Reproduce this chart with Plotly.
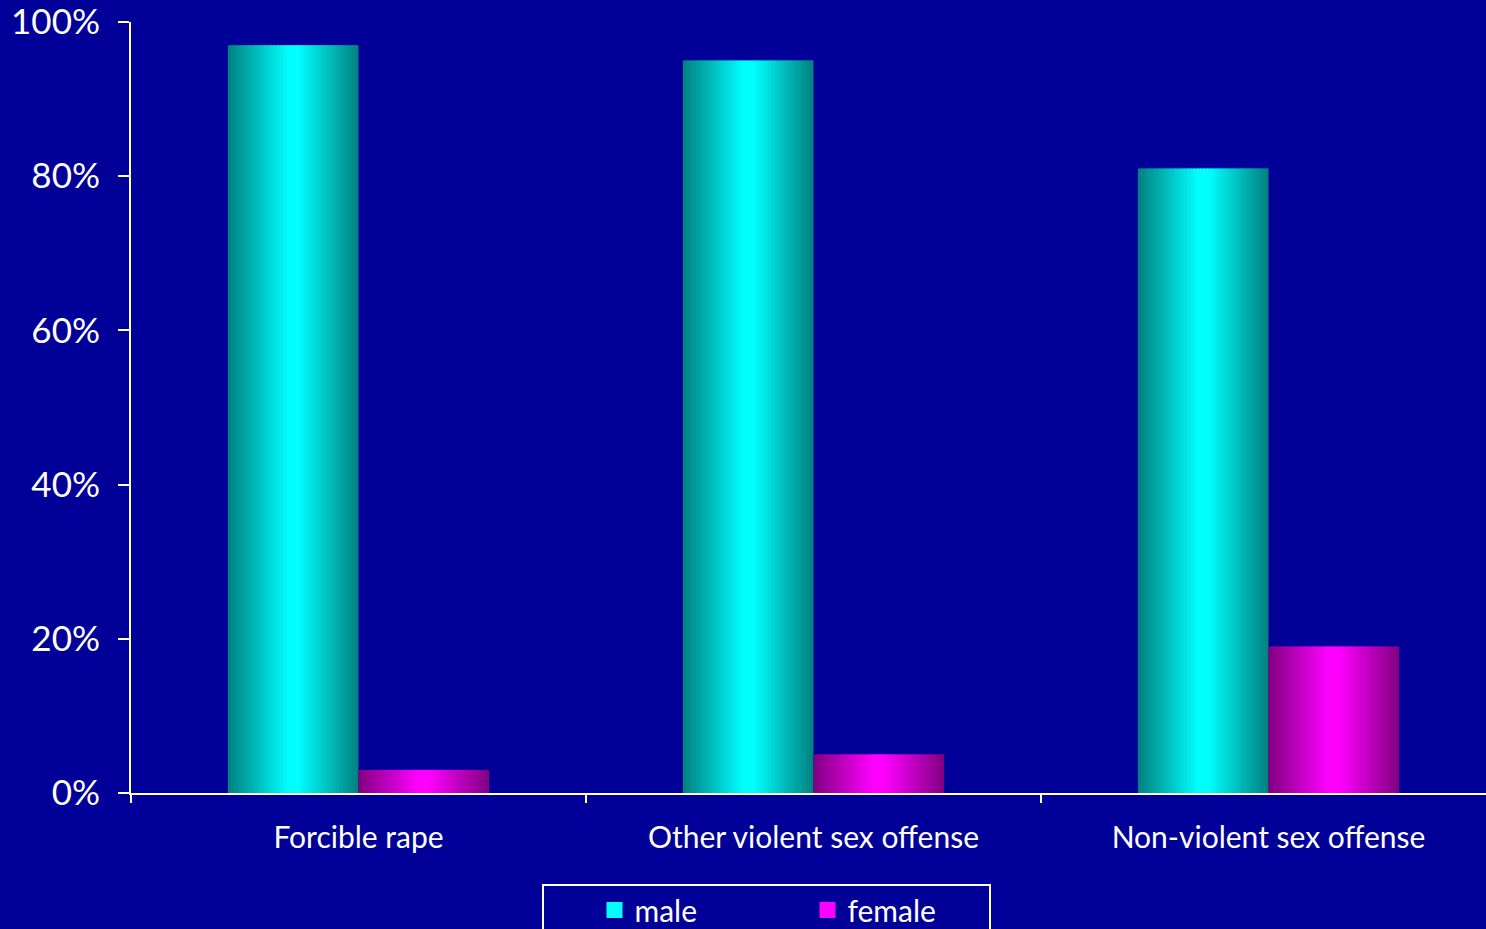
import plotly.graph_objects as go

# Share of offenders by sex for each offense type
categories = ["Forcible rape", "Other violent sex offense", "Non-violent sex offense"]
male = [0.97, 0.95, 0.81]
female = [0.03, 0.05, 0.19]
tick_vals = [0, 0.2, 0.4, 0.6, 0.8, 1.0]
tick_text = ["0%", "20%", "40%", "60%", "80%", "100%"]

BG = "rgb(0,0,153)"
FONT = "Lato"
N_SLICES = 40
BAR_W = 0.287

# (edge colour, centre colour) for the cylinder-style shading
series = [
    ("male", male, -BAR_W, (0, 128, 128), (0, 255, 255)),
    ("female", female, 0.0, (128, 0, 128), (255, 0, 255)),
]

fig = go.Figure()

for name, values, base_off, edge, centre in series:
    step = BAR_W / N_SLICES
    for i in range(N_SLICES):
        t = (i + 0.5) / N_SLICES
        v = 1 - abs(2 * t - 1)
        v = min(1.0, v * 1.08)
        col = tuple(round(e + (c - e) * v) for e, c in zip(edge, centre))
        w = step * 1.6 if i < N_SLICES - 1 else step
        fig.add_trace(go.Bar(
            x=categories, y=values,
            offset=base_off + i * step, width=w,
            marker=dict(color="rgb(%d,%d,%d)" % col, line=dict(width=0)),
            name=name, legendgroup=name, showlegend=False,
            hoverinfo="skip",
        ))
    # legend swatch for the series
    fig.add_trace(go.Scatter(
        x=[None], y=[None], mode="markers", name=name, legendgroup=name,
        marker=dict(symbol="square", size=17,
                    color="rgb(%d,%d,%d)" % centre,
                    line=dict(width=0)),
    ))

# legend frame
fig.add_shape(
    type="rect", xref="paper", yref="paper",
    x0=(543 - 131) / 1355, x1=(990 - 131) / 1355,
    y0=(793 - 885) / 771, y1=(793 - 960) / 771,
    line=dict(color="white", width=2), fillcolor="rgba(0,0,0,0)",
    layer="above",
)

fig.update_layout(
    width=1486, height=929,
    paper_bgcolor=BG, plot_bgcolor=BG,
    barmode="overlay",
    margin=dict(l=131, r=0, t=22, b=136, autoexpand=False),
    font=dict(family=FONT, color="white", size=30),
    showlegend=True,
    legend=dict(
        orientation="h", x=(594.5 - 131) / 1355, xanchor="left",
        y=(793 - 884) / 771, yanchor="top",
        bgcolor="rgba(0,0,0,0)", borderwidth=0,
        font=dict(family=FONT, size=30, color="white"),
        entrywidth=168, traceorder="normal",
    ),
    xaxis=dict(
        type="category", range=[-0.5, 2.478],
        showline=True, linecolor="white", linewidth=2,
        ticks="outside", ticklen=8, tickcolor="white", tickwidth=2,
        tickson="boundaries", ticklabelstandoff=17,
        showgrid=False, zeroline=False, tickfont=dict(size=30),
    ),
    yaxis=dict(
        range=[0, 1], tickvals=tick_vals, ticktext=tick_text,
        showline=True, linecolor="white", linewidth=2,
        ticks="outside", ticklen=11, tickcolor="white", tickwidth=2,
        ticklabelstandoff=11, ticklabeloverflow="allow",
        showgrid=False, zeroline=False, tickfont=dict(size=35),
    ),
)

fig.write_html("out.html")
